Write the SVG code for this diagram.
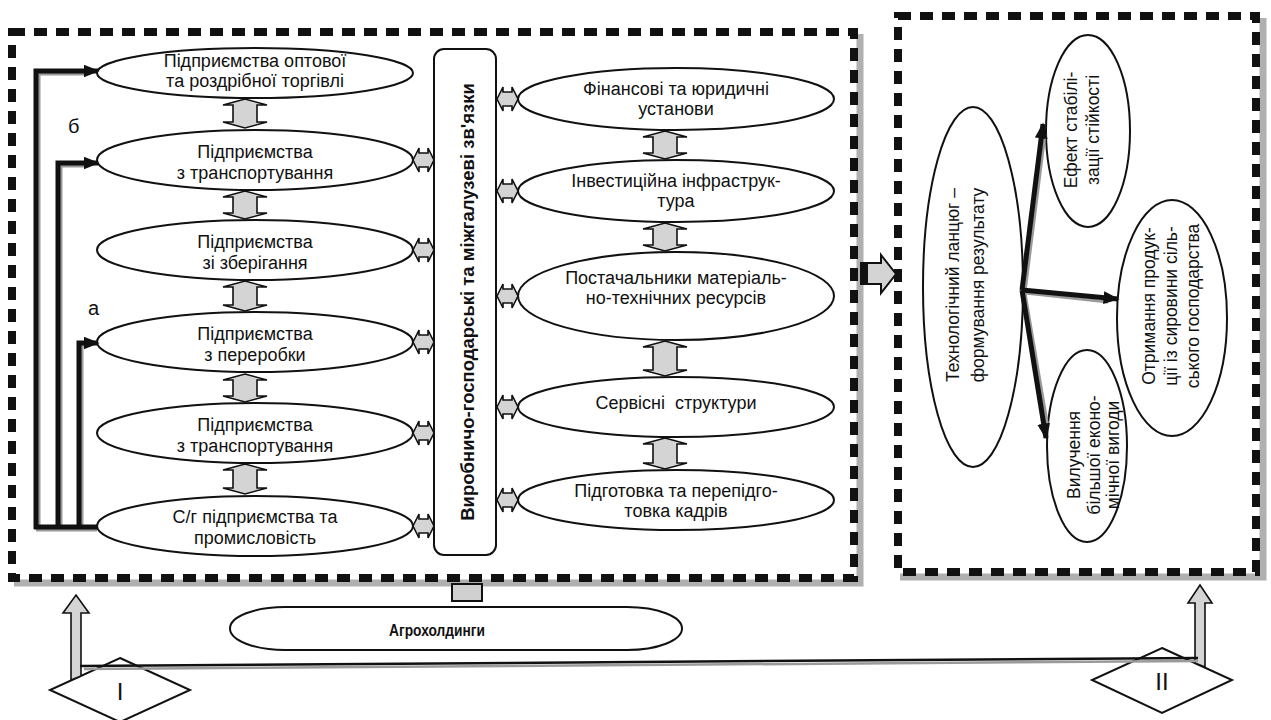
<svg xmlns="http://www.w3.org/2000/svg" width="1271" height="720" viewBox="0 0 1271 720">
<defs>
<style>
text{font-family:"Liberation Sans",Arial,sans-serif;fill:#111;}
.t{font-size:18px;text-anchor:middle;}
.r{font-size:17.5px;text-anchor:middle;}
.b{font-weight:bold;}
.el{fill:#fff;stroke:#111;stroke-width:2;}
.da{fill:#d4d4d4;stroke:#111;stroke-width:1.6;stroke-linejoin:miter;}
.dash{fill:none;stroke:#111;stroke-width:8;stroke-dasharray:13 9;}
.shadow{fill:none;stroke:#b0b0b0;stroke-width:7;}
.thick{fill:none;stroke:#111;stroke-width:5;}
.thickg{fill:none;stroke:#9a9a9a;stroke-width:3;}
.blk{fill:#111;}
</style>
<marker id="ah" viewBox="0 0 10 8" markerWidth="16" markerHeight="13" refX="9" refY="4" orient="auto" markerUnits="userSpaceOnUse">
<path d="M0,0 L10,4 L0,8 z" fill="#111"/>
</marker>
</defs>
<rect width="1271" height="720" fill="#fff"/>

<!-- Frames -->
<g id="frame-left">
<polyline class="shadow" points="860,34 860,583 14,583"/>
<rect class="dash" x="12" y="32" width="842" height="546"/>
</g>
<g id="frame-right">
<polyline class="shadow" points="1263,18 1263,577 900,577"/>
<rect class="dash" x="898" y="16" width="358" height="556"/>
</g>

<!-- Left column nodes -->
<g id="n-trade"><ellipse class="el" cx="255" cy="73" rx="158" ry="25"/>
<text class="t" x="255" y="67">Підприємства оптової</text><text class="t" x="255" y="87">та роздрібної торгівлі</text></g>
<g id="n-transport1"><ellipse class="el" cx="255" cy="160" rx="158" ry="30"/>
<text class="t" x="255" y="158">Підприємства</text><text class="t" x="255" y="179">з транспортування</text></g>
<g id="n-storage"><ellipse class="el" cx="255" cy="250" rx="158" ry="30"/>
<text class="t" x="255" y="248">Підприємства</text><text class="t" x="255" y="269">зі зберігання</text></g>
<g id="n-processing"><ellipse class="el" cx="255" cy="342" rx="158" ry="30"/>
<text class="t" x="255" y="340">Підприємства</text><text class="t" x="255" y="361">з переробки</text></g>
<g id="n-transport2"><ellipse class="el" cx="255" cy="433" rx="158" ry="30"/>
<text class="t" x="255" y="431">Підприємства</text><text class="t" x="255" y="452">з транспортування</text></g>
<g id="n-agri"><ellipse class="el" cx="255" cy="526" rx="158" ry="30"/>
<text class="t" x="255" y="523">С/г підприємства та</text><text class="t" x="255" y="544">промисловість</text></g>

<g id="label-b"><text x="68" y="133" style="font-size:20px">б</text></g>
<g id="label-a"><text x="88" y="315" style="font-size:20px">а</text></g>

<!-- Central bar -->
<g id="n-links"><rect x="434" y="49" width="62" height="506" rx="10" fill="#fff" stroke="#111" stroke-width="2"/>
<text class="b" transform="translate(474,302) rotate(-90)" style="font-size:18.5px;text-anchor:middle">Виробничо-господарські та міжгалузеві зв'язки</text></g>

<!-- Middle column nodes -->
<g id="n-finance"><ellipse class="el" cx="676" cy="99" rx="158" ry="31"/>
<text class="t" x="676" y="95">Фінансові та юридичні</text><text class="t" x="676" y="115">установи</text></g>
<g id="n-invest"><ellipse class="el" cx="676" cy="191" rx="158" ry="31"/>
<text class="t" x="676" y="187">Інвестиційна інфраструк-</text><text class="t" x="676" y="207">тура</text></g>
<g id="n-suppliers"><ellipse class="el" cx="676" cy="296" rx="158" ry="44"/>
<text class="t" x="676" y="284">Постачальники матеріаль-</text><text class="t" x="676" y="304">но-технічних ресурсів</text></g>
<g id="n-service"><ellipse class="el" cx="676" cy="407" rx="158" ry="30"/>
<text class="t" x="676" y="409" style="white-space:pre">Сервісні  структури</text></g>
<g id="n-training"><ellipse class="el" cx="676" cy="500" rx="158" ry="30"/>
<text class="t" x="676" y="497">Підготовка та перепідго-</text><text class="t" x="676" y="517">товка кадрів</text></g>

<!-- Right box nodes -->
<g id="n-chain"><ellipse class="el" cx="973" cy="287" rx="50" ry="180"/>
<text class="r" transform="translate(959,285) rotate(-90)">Технологічний ланцюг –</text>
<text class="r" transform="translate(984,285) rotate(-90)">формування результату</text></g>
<g id="n-effect"><ellipse class="el" cx="1088" cy="131" rx="42" ry="96"/>
<text class="r" transform="translate(1077,130) rotate(-90)">Ефект стабілі-</text>
<text class="r" transform="translate(1099,130) rotate(-90)">зації стійкості</text></g>
<g id="n-output"><ellipse class="el" cx="1172" cy="318" rx="55" ry="118"/>
<text class="r" transform="translate(1155,306) rotate(-90)">Отримання продук-</text>
<text class="r" transform="translate(1177,306) rotate(-90)">ції із сировини сіль-</text>
<text class="r" transform="translate(1199,306) rotate(-90)">ського господарства</text></g>
<g id="n-benefit"><ellipse class="el" cx="1087" cy="446" rx="40" ry="96"/>
<text class="r" transform="translate(1080,455) rotate(-90)">Вилучення</text>
<text class="r" transform="translate(1100,455) rotate(-90)">більшої еконо-</text>
<text class="r" transform="translate(1119,455) rotate(-90)">мічної вигоди</text></g>

<!-- Agroholdings -->
<g id="n-agroholding"><rect x="230" y="607" width="452" height="43" rx="55" ry="21.5" fill="#fff" stroke="#111" stroke-width="2"/>
<text class="b" x="437" y="636" textLength="96" lengthAdjust="spacingAndGlyphs" style="font-size:17px;text-anchor:middle">Агрохолдинги</text></g>

<!-- Diamonds -->
<g id="n-I"><polygon points="120,658 190,690 120,722 50,690" fill="#fff" stroke="#111" stroke-width="2"/>
<text x="120" y="700" style="font-size:24px;text-anchor:middle">I</text></g>
<g id="n-II"><polygon points="1162,648 1232,680 1162,713 1092,680" fill="#fff" stroke="#111" stroke-width="2"/>
<text x="1162" y="690" style="font-size:24px;text-anchor:middle">II</text></g>

<!-- Connectors -->
<g id="connectors">
<!-- left feedback lines -->
<path class="thickg" d="M39 529 L39 74 L86 74"/>
<path class="thickg" d="M61 529 L61 166 L86 166"/>
<path class="thickg" d="M82 529 L82 346 L86 346"/>
<path class="thickg" d="M36 530 L97 530"/>
<path class="thick" d="M36 529 L36 71 L98 71" marker-end="url(#ah)"/>
<path class="thick" d="M58 529 L58 163 L98 163" marker-end="url(#ah)"/>
<path class="thick" d="M79 529 L79 343 L98 343" marker-end="url(#ah)"/>
<path class="thick" d="M34 527 L98 527"/>

<!-- vertical double arrows left column -->
<polygon class="da" points="245,99 267,105 257,105 257,122 267,122 245,128 223,122 233,122 233,105 223,105"/>
<polygon class="da" points="245,191 267,197 257,197 257,213 267,213 245,219 223,213 233,213 233,197 223,197"/>
<polygon class="da" points="245,281 267,287 257,287 257,305 267,305 245,311 223,305 233,305 233,287 223,287"/>
<polygon class="da" points="245,374 267,380 257,380 257,396 267,396 245,402 223,396 233,396 233,380 223,380"/>
<polygon class="da" points="245,464 267,470 257,470 257,488 267,488 245,494 223,488 233,488 233,470 223,470"/>

<!-- vertical double arrows middle column -->
<polygon class="da" points="665,131 687,137 677,137 677,153 687,153 665,159 643,153 653,153 653,137 643,137"/>
<polygon class="da" points="665,223 687,229 677,229 677,245 687,245 665,251 643,245 653,245 653,229 643,229"/>
<polygon class="da" points="665,341 687,347 677,347 677,370 687,370 665,376 643,370 653,370 653,347 643,347"/>
<polygon class="da" points="665,438 687,444 677,444 677,463 687,463 665,469 643,463 653,463 653,444 643,444"/>

<!-- horizontal double arrows left column to bar -->
<polygon class="da" points="413,160 419,148 419,153 428,153 428,148 434,160 428,172 428,167 419,167 419,172"/>
<polygon class="da" points="413,250 419,238 419,243 428,243 428,238 434,250 428,262 428,257 419,257 419,262"/>
<polygon class="da" points="413,342 419,330 419,335 428,335 428,330 434,342 428,354 428,349 419,349 419,354"/>
<polygon class="da" points="413,433 419,421 419,426 428,426 428,421 434,433 428,445 428,440 419,440 419,445"/>
<polygon class="da" points="413,526 419,514 419,519 428,519 428,514 434,526 428,538 428,533 419,533 419,538"/>

<!-- horizontal double arrows bar to middle column -->
<polygon class="da" points="497,99 503,87 503,92 512,92 512,87 518,99 512,111 512,106 503,106 503,111"/>
<polygon class="da" points="497,191 503,179 503,184 512,184 512,179 518,191 512,203 512,198 503,198 503,203"/>
<polygon class="da" points="497,296 503,284 503,289 512,289 512,284 518,296 512,308 512,303 503,303 503,308"/>
<polygon class="da" points="497,407 503,395 503,400 512,400 512,395 518,407 512,419 512,414 503,414 503,419"/>
<polygon class="da" points="497,500 503,488 503,493 512,493 512,488 518,500 512,512 512,507 503,507 503,512"/>

<!-- block arrow between frames -->
<polygon class="da" points="861,263 881,263 881,255 896,274 881,293 881,284 861,284" style="stroke-width:2"/>
<rect class="blk" x="861" y="263" width="7" height="21"/>

<!-- right box arrows -->
<path class="thickg" d="M1025 292 L1045 134"/>
<path class="thickg" d="M1025 293 L1108 302"/>
<path class="thickg" d="M1025 293 L1048 428"/>
<path class="thick" d="M1022 290 L1043 124" marker-end="url(#ah)"/>
<path class="thick" d="M1022 290 L1118 299" marker-end="url(#ah)"/>
<path class="thick" d="M1022 290 L1046 438" marker-end="url(#ah)"/>

<!-- stub below left frame to agroholdings -->
<rect x="452" y="584" width="30" height="17" fill="#d0d0d0" stroke="#111" stroke-width="2"/>

<!-- up arrows (shafts end on the diamond edges) -->
<polygon class="da" points="76,595 89,613 81,613 81,676 71,680 71,613 63,613"/>
<polygon class="da" points="1200,585 1212,603 1205,603 1205,667 1195,663 1195,603 1188,603"/>

<!-- bottom line -->
<line x1="84" y1="669" x2="1198" y2="661" stroke="#9a9a9a" stroke-width="2.5"/>
<line x1="80" y1="666" x2="1198" y2="658" stroke="#111" stroke-width="2.5"/>
</g>
</svg>
